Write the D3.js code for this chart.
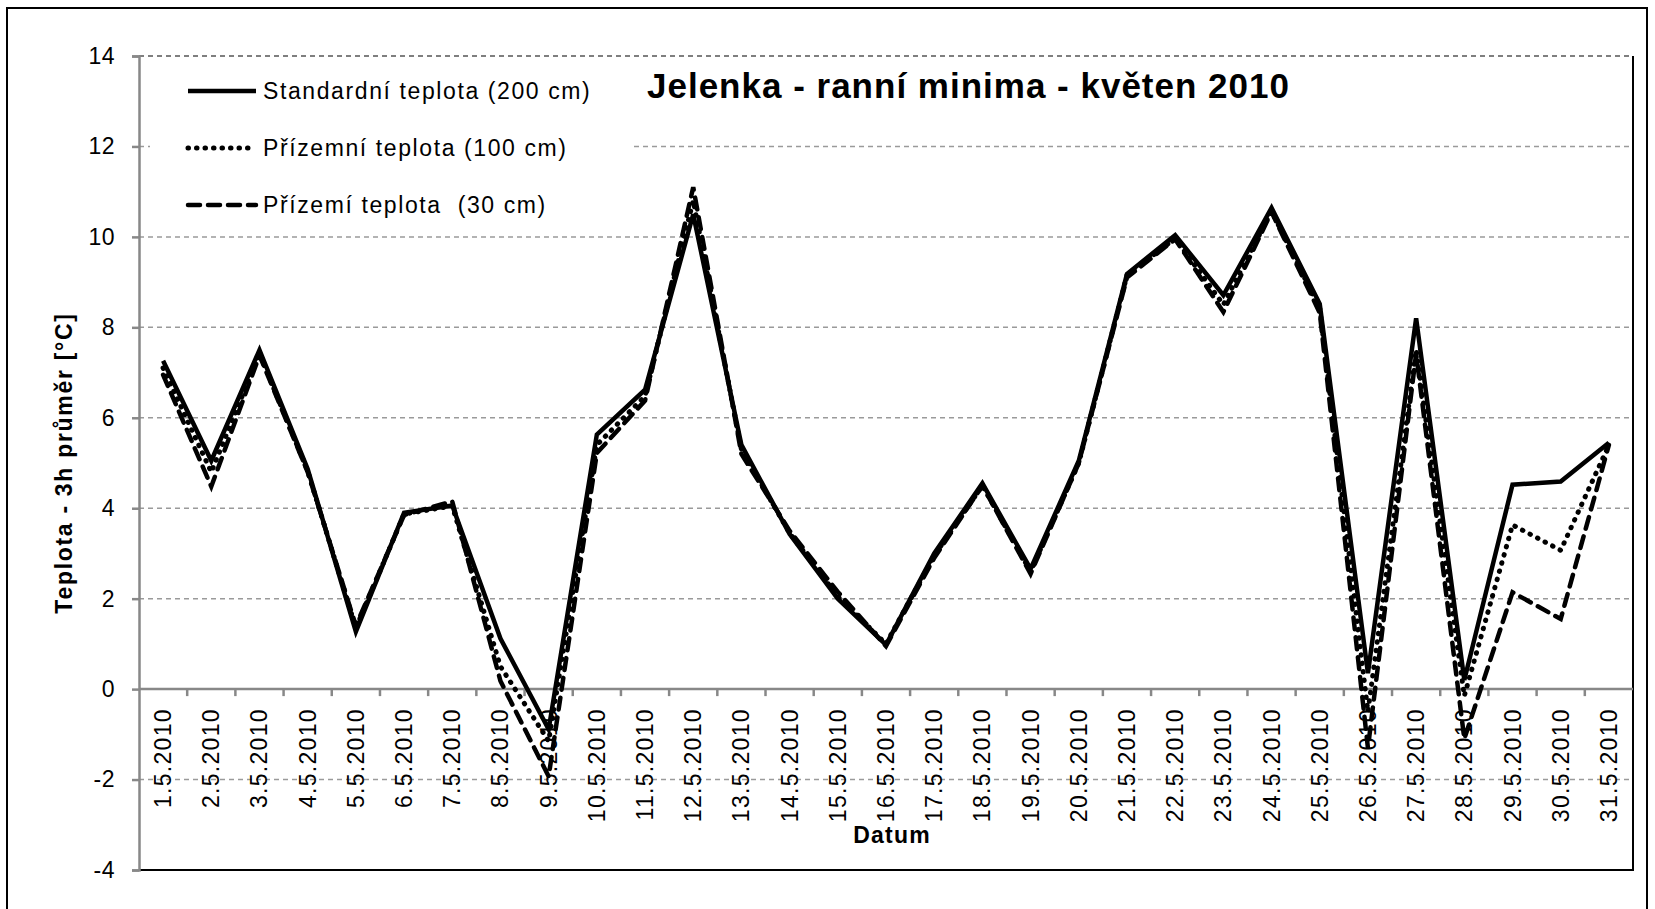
<!DOCTYPE html>
<html>
<head>
<meta charset="utf-8">
<script src="https://cdn.jsdelivr.net/npm/d3@7"></script>
<style>
  body { margin: 0; background: #fff; }
  svg { display: block; font-family: "Liberation Sans", Arial, sans-serif; }
  text { white-space: pre; }
</style>
</head>
<body>
<svg id="chart"></svg>
<script>
// data
const dates = [
  "1.5.2010", "2.5.2010", "3.5.2010", "4.5.2010", "5.5.2010", "6.5.2010",
  "7.5.2010", "8.5.2010", "9.5.2010", "10.5.2010", "11.5.2010", "12.5.2010",
  "13.5.2010", "14.5.2010", "15.5.2010", "16.5.2010", "17.5.2010", "18.5.2010",
  "19.5.2010", "20.5.2010", "21.5.2010", "22.5.2010", "23.5.2010", "24.5.2010",
  "25.5.2010", "26.5.2010", "27.5.2010", "28.5.2010", "29.5.2010", "30.5.2010",
  "31.5.2010"
];
const standard200 = [
  7.26, 5.05, 7.5, 4.87, 1.27, 3.9, 4.06, 1.12, -0.89, 5.63, 6.62, 10.5,
  5.4, 3.43, 2.0, 0.98, 3.0, 4.55, 2.66, 5.05, 9.18, 10.04, 8.71, 10.64,
  8.52, 0.35, 8.2, 0.2, 4.52, 4.59, 5.45
];
const ground100 = [
  7.1, 4.8, 7.42, 4.82, 1.35, 3.87, 4.05, 0.5, -1.15, 5.4, 6.48, 10.8,
  5.3, 3.45, 2.05, 1.0, 2.95, 4.5, 2.6, 5.0, 9.15, 9.97, 8.5, 10.57,
  8.42, -0.5, 7.5, -0.15, 3.63, 3.07, 5.4
];
const ground30 = [
  6.95, 4.48, 7.38, 4.8, 1.4, 3.85, 4.15, 0.18, -1.93, 5.22, 6.38, 11.1,
  5.2, 3.5, 2.15, 0.95, 2.9, 4.5, 2.55, 5.0, 9.1, 9.95, 8.34, 10.55,
  8.32, -1.3, 7.42, -1.1, 2.14, 1.55, 5.4
];
const yTicks = [-4, -2, 0, 2, 4, 6, 8, 10, 12, 14];
const seriesNames = [
  "Standardní teplota (200 cm)",
  "Přízemní teplota (100 cm)",
  "Přízemí teplota  (30 cm)"
];

const width = 1655, height = 909;
const plotLeft = 139, plotRight = 1633, plotTop = 56, plotBottom = 870;

var svg = d3.select("#chart").attr("width", width).attr("height", height);

// vnější rámeček
svg.append("rect")
  .attr("x", 7).attr("y", 8)
  .attr("width", 1640).attr("height", 920)
  .attr("fill", "#fff")
  .attr("stroke", "#000")
  .attr("stroke-width", 2);

var x = d3.scaleBand().domain(dates).range([plotLeft, plotRight]);
var y = d3.scaleLinear().domain([-4, 14]).range([plotBottom, plotTop]);

// mřížka
svg.append("g")
  .selectAll("line")
  .data(yTicks.filter((t) => t !== 0 && t !== -4))
  .enter()
  .append("line")
  .attr("x1", plotLeft).attr("x2", plotRight)
  .attr("y1", (d) => y(d)).attr("y2", (d) => y(d))
  .attr("stroke", (d) => (d === 14 ? "#555" : "#9a9a9a"))
  .attr("stroke-width", 1.5)
  .attr("stroke-dasharray", "5,4");

// pravý a spodní okraj
svg.append("path")
  .attr("d", `M${plotRight},${plotTop}V${plotBottom}H${plotLeft}`)
  .attr("fill", "none")
  .attr("stroke", "#000")
  .attr("stroke-width", 2);

// osa Y
var yAxis = svg.append("g")
  .attr("transform", `translate(${plotLeft},0)`)
  .call(
    d3.axisLeft(y)
      .tickValues(yTicks)
      .tickFormat((d) => d.toString())
      .tickSize(7)
      .tickPadding(17)
  );
yAxis.select(".domain").attr("stroke", "#888").attr("stroke-width", 2.5);
yAxis.selectAll(".tick line").attr("stroke", "#888").attr("stroke-width", 2.5);
yAxis.selectAll(".tick text")
  .attr("font-size", 23)
  .attr("font-family", "Liberation Sans, Arial, sans-serif")
  .attr("fill", "#000")
  .attr("letter-spacing", 0.5);

// osa X na nule, popisky svisle
var xAxisG = svg.append("g").attr("transform", `translate(0,${y(0)})`);
xAxisG.append("line")
  .attr("x1", plotLeft).attr("x2", plotRight)
  .attr("stroke", "#888").attr("stroke-width", 2.5);
xAxisG.selectAll("line.tick")
  .data(dates.slice(1))
  .enter()
  .append("line")
  .attr("class", "tick")
  .attr("x1", (d) => x(d)).attr("x2", (d) => x(d))
  .attr("y1", 0).attr("y2", 7)
  .attr("stroke", "#888").attr("stroke-width", 2.5);
xAxisG.selectAll("text")
  .data(dates)
  .enter()
  .append("text")
  .attr("transform", (d) => `translate(${x(d) + x.bandwidth() / 2 + 8},19) rotate(-90)`)
  .attr("text-anchor", "end")
  .attr("font-size", 23)
  .attr("letter-spacing", 1.3)
  .text((d) => d);

// čáry
var line = d3.line()
  .x((d, i) => x(dates[i]) + x.bandwidth() / 2)
  .y((d) => y(d));

const styles = [
  { data: standard200, dash: null, width: 4.5, cap: "butt" },
  { data: ground100, dash: "0.5,8", width: 5, cap: "round" },
  { data: ground30, dash: "12,8", width: 4.5, cap: "round" }
];

styles.forEach((s) => {
  svg.append("path")
    .datum(s.data)
    .attr("d", line)
    .attr("fill", "none")
    .attr("stroke", "#000")
    .attr("stroke-width", s.width)
    .attr("stroke-linejoin", "miter")
    .attr("stroke-linecap", s.cap)
    .attr("stroke-dasharray", s.dash);
});

// legenda
var legend = svg.append("g");
legend.append("rect")
  .attr("x", 150).attr("y", 64)
  .attr("width", 482).attr("height", 165)
  .attr("fill", "#fff");
const legendY = [91, 148, 205];
styles.forEach((s, i) => {
  legend.append("line")
    .attr("x1", 188).attr("x2", 256)
    .attr("y1", legendY[i]).attr("y2", legendY[i])
    .attr("stroke", "#000")
    .attr("stroke-width", s.width)
    .attr("stroke-linecap", s.cap)
    .attr("stroke-dasharray", s.dash);
  legend.append("text")
    .attr("x", 263).attr("y", legendY[i] + 8)
    .attr("font-size", 23)
    .attr("letter-spacing", 1.6)
    .text(seriesNames[i]);
});

// nadpis
svg.append("text")
  .attr("x", 647).attr("y", 98)
  .attr("font-size", 35)
  .attr("font-weight", "bold")
  .attr("letter-spacing", 1)
  .text("Jelenka - ranní minima - květen 2010");

// názvy os
svg.append("text")
  .attr("transform", `translate(72,${(plotTop + plotBottom) / 2}) rotate(-90)`)
  .attr("text-anchor", "middle")
  .attr("font-size", 23)
  .attr("font-weight", "bold")
  .attr("letter-spacing", 1.7)
  .text("Teplota - 3h průměr [°C]");

svg.append("text")
  .attr("x", 892).attr("y", 843)
  .attr("text-anchor", "middle")
  .attr("font-size", 23)
  .attr("font-weight", "bold")
  .attr("letter-spacing", 1.2)
  .text("Datum");
</script>
</body>
</html>
